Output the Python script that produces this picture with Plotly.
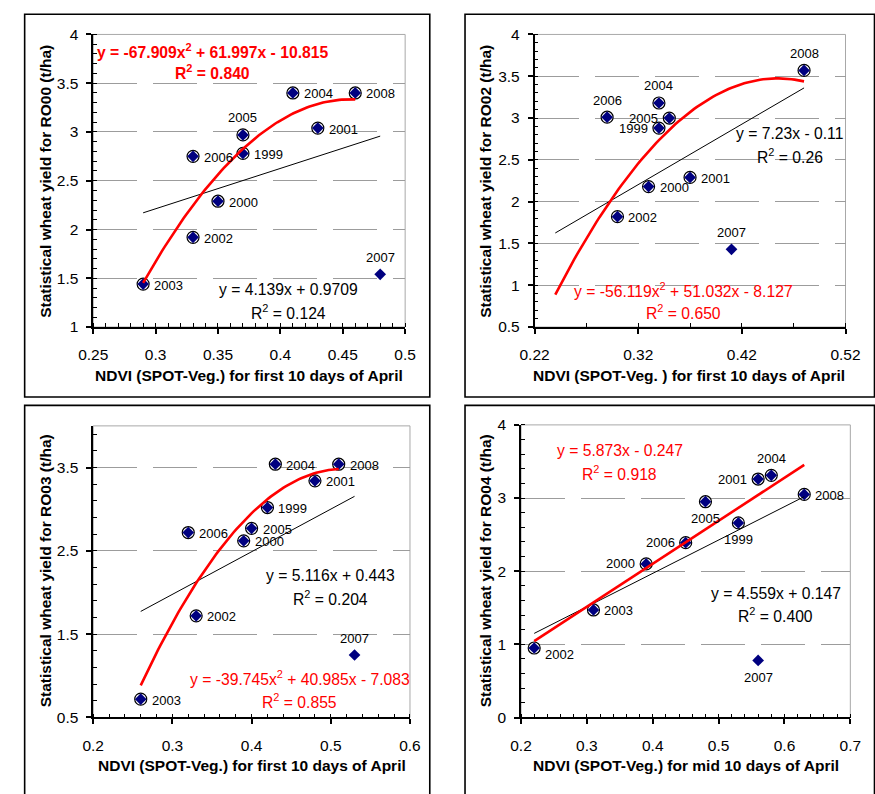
import numpy as np
import plotly.graph_objects as go

# ---------------- data ----------------
years = [1999, 2000, 2001, 2002, 2003, 2004, 2005, 2006, 2007, 2008]
excluded_years = [2007]

# RO00
ro00_ndvi = [0.37, 0.35, 0.43, 0.33, 0.29, 0.41, 0.37, 0.33, 0.48, 0.46]
ro00_yield = [2.78, 2.29, 3.04, 1.92, 1.44, 3.40, 2.97, 2.75, 1.54, 3.40]
# RO02
ro02_ndvi = [0.34, 0.33, 0.37, 0.30, None, 0.34, 0.35, 0.29, 0.41, 0.48]
ro02_yield = [2.88, 2.18, 2.29, 1.82, None, 3.18, 3.00, 3.01, 1.43, 3.57]
# RO03
ro03_ndvi = [0.42, 0.39, 0.48, 0.33, 0.26, 0.43, 0.40, 0.32, 0.53, 0.51]
ro03_yield = [3.02, 2.62, 3.34, 1.72, 0.72, 3.54, 2.77, 2.72, 1.25, 3.54]
# RO04
ro04_ndvi = [0.53, 0.39, 0.56, 0.22, 0.31, 0.58, 0.48, 0.45, 0.56, 0.63]
ro04_yield = [2.66, 2.10, 3.26, 0.95, 1.47, 3.31, 2.95, 2.39, 0.78, 3.05]

# trendline coefficients (highest power first) and x extent, as printed on the chart
ro00_red_coef = [-67.909, 61.997, -10.815]; ro00_red_span = [0.29, 0.46]
ro00_blk_coef = [4.139, 0.9709];            ro00_blk_span = [0.29, 0.48]
ro02_red_coef = [-56.119, 51.032, -8.127];  ro02_red_span = [0.24, 0.48]
ro02_blk_coef = [7.23, -0.11];              ro02_blk_span = [0.24, 0.48]
ro03_red_coef = [-39.745, 40.985, -7.083];  ro03_red_span = [0.26, 0.51]
ro03_blk_coef = [5.116, 0.443];             ro03_blk_span = [0.26, 0.53]
ro04_red_coef = [5.873, -0.247];            ro04_red_span = [0.22, 0.63]
ro04_blk_coef = [4.559, 0.147];             ro04_blk_span = [0.22, 0.63]

# ---------------- styles ----------------
FONT = "Liberation Sans, Arial, sans-serif"
W, H = 875, 794
NAVY = "#000080"
RED = "#FF0000"

# label placement per panel (style)
side_ro00 = {1999: "r", 2000: "r", 2001: "r", 2002: "r", 2003: "r", 2004: "r",
             2005: "a", 2006: "r", 2007: "a", 2008: "r"}
side_ro02 = {1999: "l", 2000: "r", 2001: "r", 2002: "r", 2004: "a",
             2005: "l", 2006: "a", 2007: "a", 2008: "a"}
side_ro03 = {1999: "r", 2000: "r", 2001: "r", 2002: "r", 2003: "r", 2004: "r",
             2005: "r", 2006: "r", 2007: "a", 2008: "r"}
side_ro04 = {1999: "b", 2000: "l", 2001: "l", 2002: "rb", 2003: "r", 2004: "a",
             2005: "b", 2006: "l", 2007: "b", 2008: "r"}

panels = [
    dict(xs=ro00_ndvi, ys=ro00_yield, red=(ro00_red_coef, ro00_red_span),
         blk=(ro00_blk_coef, ro00_blk_span), sides=side_ro00,
         xdom=(81, 404), ydom=(26, 325), xr=[0.25, 0.5], xt0=0.25, xdt=0.05, xmin=0.01,
         yr=[1, 4], yt0=1, ydt=0.5, ymin=0.1),
    dict(xs=ro02_ndvi, ys=ro02_yield, red=(ro02_red_coef, ro02_red_span),
         blk=(ro02_blk_coef, ro02_blk_span), sides=side_ro02,
         xdom=(538, 860), ydom=(26, 325), xr=[0.22, 0.52], xt0=0.22, xdt=0.1, xmin=0.05,
         yr=[0.5, 4], yt0=0.5, ydt=0.5, ymin=0.1),
    dict(xs=ro03_ndvi, ys=ro03_yield, red=(ro03_red_coef, ro03_red_span),
         blk=(ro03_blk_coef, ro03_blk_span), sides=side_ro03,
         xdom=(81, 409), ydom=(426, 724), xr=[0.2, 0.6], xt0=0.2, xdt=0.1, xmin=0.02,
         yr=[0.5, 4], yt0=0.5, ydt=1, ymin=0.2),
    dict(xs=ro04_ndvi, ys=ro04_yield, red=(ro04_red_coef, ro04_red_span),
         blk=(ro04_blk_coef, ro04_blk_span), sides=side_ro04,
         xdom=(524, 865), ydom=(425, 724), xr=[0.2, 0.7], xt0=0.2, xdt=0.1, xmin=0.02,
         yr=[0, 4], yt0=0, ydt=1, ymin=0.2),
]

fig = go.Figure()
annotations = []
shapes = []

def px_x(v):
    return v / W

def px_y(v):
    return 1 - v / H

for i, p in enumerate(panels):
    n = "" if i == 0 else str(i + 1)
    xa, ya = "x" + n, "y" + n
    pts = [(y, x, v) for y, x, v in zip(years, p["xs"], p["ys"]) if x is not None]
    circ = [(x, v) for y, x, v in pts if y not in excluded_years]
    # circled (fitted) points
    fig.add_trace(go.Scatter(
        x=[c[0] for c in circ], y=[c[1] for c in circ], mode="markers",
        marker=dict(symbol="circle", size=12, color="white",
                    line=dict(color="black", width=1.2)),
        xaxis=xa, yaxis=ya, showlegend=False, hoverinfo="skip"))
    # all points
    fig.add_trace(go.Scatter(
        x=[q[1] for q in pts], y=[q[2] for q in pts], mode="markers",
        marker=dict(symbol="diamond", size=9, color=NAVY, line=dict(width=0)),
        xaxis=xa, yaxis=ya, showlegend=False))
    # trendlines
    for (coef, span), col, wd in [(p["blk"], "black", 1), (p["red"], RED, 2.6)]:
        xx = np.linspace(span[0], span[1], 80)
        fig.add_trace(go.Scatter(
            x=xx, y=np.polyval(coef, xx), mode="lines",
            line=dict(color=col, width=wd), xaxis=xa, yaxis=ya,
            showlegend=False, hoverinfo="skip"))
    # year labels
    for y, x, v in pts:
        s = p["sides"][y]
        kw = dict(xanchor="left", xshift=9, yshift=-1)
        if s == "l":
            kw = dict(xanchor="right", xshift=-9, yshift=0)
        elif s == "a":
            kw = dict(xanchor="center", xshift=0, yshift=17)
        elif s == "b":
            kw = dict(xanchor="center", xshift=0, yshift=-17)
        elif s == "rb":
            kw = dict(xanchor="left", xshift=9, yshift=-6)
        annotations.append(dict(x=x, y=v, xref=xa, yref=ya, text=str(y),
                                showarrow=False, yanchor="middle",
                                font=dict(family=FONT, size=13, color="black"), **kw))
    axis_common = dict(showline=True, linecolor="black", linewidth=1.5, mirror=False,
                       ticks="outside", ticklen=5, tickwidth=1.5, tickcolor="black",
                       showgrid=False, zeroline=False,
                       tickfont=dict(family=FONT, size=15.5, color="black"))
    fig.update_layout(**{
        "xaxis" + n: dict(domain=[px_x(p["xdom"][0]), px_x(p["xdom"][1])],
                          range=p["xr"], tickmode="linear", tick0=p["xt0"], dtick=p["xdt"],
                          anchor=ya, ticklabelstandoff=8,
                          minor=dict(ticks="inside", ticklen=4, tickwidth=1, tickcolor="black",
                                     tick0=p["xt0"], dtick=p["xmin"], showgrid=False),
                          **axis_common),
        "yaxis" + n: dict(domain=[px_y(p["ydom"][1]), px_y(p["ydom"][0])],
                          range=p["yr"], tickmode="linear", tick0=p["yt0"], dtick=p["ydt"],
                          anchor=xa, ticklabelstandoff=5,
                          minor=dict(ticks="inside", ticklen=4, tickwidth=1, tickcolor="black",
                                     tick0=p["yt0"], dtick=p["ymin"], showgrid=False),
                          **{**axis_common, "showgrid": True, "gridcolor": "#9c9c9c",
                             "gridwidth": 1, "griddash": "44px,16px"}),
    })
    # gray plot-area border
    shapes.append(dict(type="rect", xref=xa + " domain", yref=ya + " domain",
                       x0=0, x1=1, y0=0, y1=1, line=dict(color="#a8a8a8", width=1),
                       layer="below"))

# outer panel frames
for x0, x1, y0, y1 in [(10, 429.5, 5.3, 396.5), (466, 890, 5.3, 396.5),
                       (10, 429.5, 405, 810), (466, 890, 405, 810)]:
    shapes.append(dict(type="rect", xref="paper", yref="paper",
                       x0=px_x(x0), x1=px_x(x1), y0=px_y(y1), y1=px_y(y0),
                       line=dict(color="black", width=1.6), layer="below"))

# axis titles
xtitles = ["NDVI (SPOT-Veg.) for first 10 days of April",
           "NDVI (SPOT-Veg. ) for first 10 days of April",
           "NDVI (SPOT-Veg.) for first 10 days of April",
           "NDVI (SPOT-Veg.) for mid 10 days of April"]
ytitles = ["Statistical wheat yield for RO00 (t/ha)",
           "Statistical wheat yield for RO02 (t/ha)",
           "Statistical wheat yield for RO03 (t/ha)",
           "Statistical wheat yield for RO04 (t/ha)"]
xt_pos = [(242.5, 375), (698, 375), (245, 773), (695, 773)]
yt_pos = [(31.7, 176), (487.3, 176), (31.7, 574), (487.3, 574)]
for t, (cx, cy) in zip(xtitles, xt_pos):
    annotations.append(dict(x=px_x(cx), y=px_y(cy), xref="paper", yref="paper", text="<b>%s</b>" % t,
                            showarrow=False, xanchor="center", yanchor="middle",
                            font=dict(family=FONT, size=15.5, color="black")))
for t, (cx, cy) in zip(ytitles, yt_pos):
    annotations.append(dict(x=px_x(cx), y=px_y(cy), xref="paper", yref="paper", text="<b>%s</b>" % t,
                            showarrow=False, xanchor="center", yanchor="middle", textangle=-90,
                            font=dict(family=FONT, size=15.5, color="black")))

# equations
eqs = [
    ("<b>y = -67.909x<sup>2</sup> + 61.997x - 10.815</b>", 205, 43, RED),
    ("<b>R<sup>2</sup> = 0.840</b>", 204, 64, RED),
    ("y = 4.139x + 0.9709", 283, 287, "black"),
    ("R<sup>2</sup> = 0.124", 283, 310, "black"),
    ("y = 7.23x - 0.11", 802, 127, "black"),
    ("R<sup>2</sup> = 0.26", 803, 150, "black"),
    ("y = -56.119x<sup>2</sup> + 51.032x - 8.127", 692, 287, RED),
    ("R<sup>2</sup> = 0.650", 692, 310, RED),
    ("y = 5.116x + 0.443", 327, 579, "black"),
    ("R<sup>2</sup> = 0.204", 327, 602, "black"),
    ("y = -39.745x<sup>2</sup> + 40.985x - 7.083", 295, 684, RED),
    ("R<sup>2</sup> = 0.855", 295, 707, RED),
    ("y = 5.873x - 0.247", 626, 451, RED),
    ("R<sup>2</sup> = 0.918", 626, 474, RED),
    ("y = 4.559x + 0.147", 788, 597, "black"),
    ("R<sup>2</sup> = 0.400", 788, 619, "black"),
]
for t, cx, cy, col in eqs:
    annotations.append(dict(x=px_x(cx), y=px_y(cy), xref="paper", yref="paper", text=t,
                            showarrow=False, xanchor="center", yanchor="middle",
                            font=dict(family=FONT, size=15.7, color=col)))

fig.update_layout(width=W, height=H, margin=dict(l=0, r=0, t=0, b=0),
                  paper_bgcolor="white", plot_bgcolor="white",
                  annotations=annotations, shapes=shapes, showlegend=False)

fig.write_html("out.html")
